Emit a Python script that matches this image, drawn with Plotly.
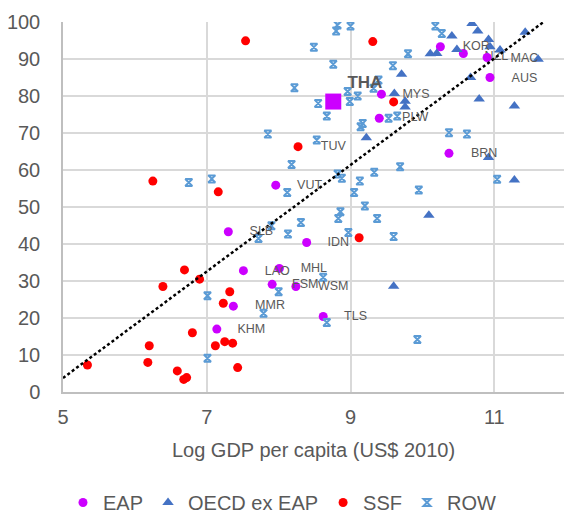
import plotly.graph_objects as go

# ---- data ----
eap_x = [10.25, 10.57, 10.90, 10.94, 9.43, 9.40, 10.37, 7.96, 7.30, 8.39, 7.51, 8.01, 7.91, 8.24, 7.37, 7.14, 8.62]
eap_y = [93.3, 91.5, 90.4, 85.0, 80.5, 74.0, 64.5, 55.9, 43.3, 40.4, 32.8, 33.4, 29.1, 28.5, 23.2, 17.0, 20.4]

tha_x = [8.76]
tha_y = [78.5]

oecd_x = [10.69, 10.77, 10.41, 10.48, 10.11, 10.20, 10.92, 10.94, 11.08, 11.43, 11.61, 10.67, 9.71, 9.61,
          9.76, 9.76, 10.79, 11.28, 9.22, 10.92, 11.28, 10.09, 9.60]
oecd_y = [99.6, 97.6, 96.2, 92.6, 91.4, 91.5, 95.3, 93.3, 92.4, 97.2, 89.9, 85.0, 85.9, 80.7,
          78.6, 77.0, 79.2, 77.3, 68.7, 63.4, 57.3, 47.8, 28.6]

ssf_x = [6.25, 7.16, 7.54, 9.31, 9.60, 8.27, 9.12, 6.69, 6.90, 6.39, 7.32, 7.23, 6.80, 6.20, 7.12, 7.25,
         7.36, 5.34, 6.18, 6.59, 6.68, 6.72, 7.43]
ssf_y = [57.0, 54.1, 94.9, 94.7, 78.4, 66.3, 41.7, 33.0, 30.5, 28.5, 27.1, 24.0, 16.0, 12.5, 12.5, 13.6,
         13.2, 7.3, 8.0, 5.7, 3.4, 3.9, 6.6]

row_x = [6.75, 7.07, 8.82, 8.80, 9.00, 8.49, 9.80, 8.76, 9.59, 8.22, 9.39, 9.32, 8.96, 9.10, 8.99, 8.55,
         8.67, 9.53, 9.65, 9.17, 9.14, 7.85, 8.53, 8.18, 9.33, 9.69, 8.82, 8.88, 9.13, 8.12, 9.05, 10.18,
         10.27, 10.37, 10.62, 11.04, 9.95, 9.20, 8.86, 8.83, 9.37, 7.90, 7.72, 8.13, 8.31, 8.97, 9.60,
         8.00, 8.62, 7.79, 8.67, 7.01, 7.01, 9.93]
row_y = [56.6, 57.6, 99.2, 97.6, 98.9, 93.2, 91.4, 88.6, 88.2, 82.2, 84.3, 82.1, 81.2, 80.0, 78.5, 78.0,
         74.6, 74.0, 74.6, 72.6, 71.7, 69.7, 68.1, 61.5, 59.4, 60.9, 58.9, 57.8, 57.0, 53.9, 53.9, 98.9,
         96.9, 70.1, 69.7, 57.5, 54.6, 50.3, 48.7, 46.9, 46.9, 44.9, 41.5, 42.7, 45.8, 43.1, 42.0,
         27.1, 31.0, 21.3, 18.8, 26.0, 9.1, 14.2]

trend_x = [5.0, 11.72]
trend_y = [3.8, 100.5]

label_text = ["MYS", "PLW", "KOR", "MAC", "AUS", "BRN", "TUV", "VUT", "SLB", "IDN", "LAO", "MHL",
              "FSM", "WSM", "MMR", "KHM", "TLS"]
label_x = [9.91, 9.90, 10.75, 11.42, 11.42, 10.86, 8.76, 8.43, 7.76, 8.83, 7.98, 8.49,
           8.37, 8.76, 7.88, 7.62, 9.07]
label_y = [80.3, 74.1, 93.2, 90.0, 84.6, 64.3, 66.2, 55.7, 43.2, 40.3, 32.4, 33.2,
           28.9, 28.4, 23.2, 16.8, 20.3]

under_text = ["NZL"]
under_x = [11.03]
under_y = [90.5]

tha_label = ["THA"]
tha_lx = [9.20]
tha_ly = [83.2]

GREY = "#595959"
FONT = "Liberation Sans, Arial, sans-serif"

fig = go.Figure()

fig.add_trace(go.Scatter(x=under_x, y=under_y, mode="text", text=under_text, showlegend=False,
                         textfont=dict(size=12.5, color=GREY, family=FONT), hoverinfo="skip"))

fig.add_trace(go.Scatter(x=eap_x, y=eap_y, mode="markers", name="EAP",
                         marker=dict(symbol="circle", size=9, color="#CC00FF")))
fig.add_trace(go.Scatter(x=oecd_x, y=oecd_y, mode="markers", name="OECD ex EAP",
                         marker=dict(symbol="triangle-up", size=10, color="#4472C4")))
fig.add_trace(go.Scatter(x=ssf_x, y=ssf_y, mode="markers", name="SSF",
                         marker=dict(symbol="circle", size=9, color="#FF0000")))
fig.add_trace(go.Scatter(x=row_x, y=row_y, mode="markers", name="ROW",
                         marker=dict(symbol="hourglass-open", size=7, color="#5B9BD5",
                                     line=dict(width=2, color="#5B9BD5"))))
fig.add_trace(go.Scatter(x=trend_x, y=trend_y, mode="lines", showlegend=False, hoverinfo="skip",
                         line=dict(color="black", width=2.5, dash="3px,2.5px")))
fig.add_trace(go.Scatter(x=tha_x, y=tha_y, mode="markers", showlegend=False,
                         marker=dict(symbol="square", size=16, color="#CC00FF")))

fig.add_trace(go.Scatter(x=label_x, y=label_y, mode="text", text=label_text, showlegend=False,
                         textfont=dict(size=12.5, color=GREY, family=FONT), hoverinfo="skip"))
fig.add_trace(go.Scatter(x=tha_lx, y=tha_ly, mode="text", text=tha_label, showlegend=False,
                         textfont=dict(size=17, color=GREY, family="Liberation Sans, Arial", weight="bold"),
                         hoverinfo="skip"))

fig.update_layout(
    width=564, height=522,
    margin=dict(l=63, r=0, t=22, b=130),
    plot_bgcolor="white", paper_bgcolor="white",
    font=dict(family=FONT, color=GREY, size=20),
    legend=dict(orientation="h", xref="container", yref="container", x=0.5, xanchor="center",
                y=0.0, yanchor="bottom", font=dict(size=20, color=GREY), itemwidth=30,
                tracegroupgap=0),
)
fig.update_xaxes(range=[5, 11.97], tickvals=[5, 7, 9, 11], showgrid=True, gridcolor="#D9D9D9",
                 gridwidth=1.5, zeroline=False, showline=True, linecolor="#BFBFBF", linewidth=1.5,
                 ticks="", ticklabelstandoff=6, tickfont=dict(size=20, color=GREY),
                 title=dict(text="Log GDP per capita (US$ 2010)", standoff=16,
                            font=dict(size=20, color=GREY)))
fig.update_yaxes(range=[0, 100], tickvals=list(range(0, 101, 10)), showgrid=True, gridcolor="#D9D9D9",
                 gridwidth=1.5, zeroline=False, showline=True, linecolor="#BFBFBF", linewidth=1.5,
                 ticks="", ticklabelstandoff=17, tickfont=dict(size=20, color=GREY))

fig.write_html("out.html")
